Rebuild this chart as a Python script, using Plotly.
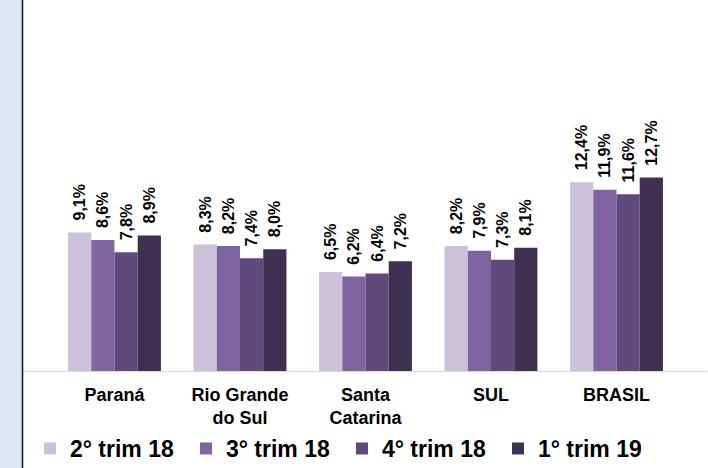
import plotly.graph_objects as go

categories = ["Paraná", "Rio Grande<br>do Sul", "Santa<br>Catarina", "SUL", "BRASIL"]
series_names = ["2° trim 18", "3° trim 18", "4° trim 18", "1° trim 19"]
trim2_18 = [9.1, 8.3, 6.5, 8.2, 12.4]
trim3_18 = [8.6, 8.2, 6.2, 7.9, 11.9]
trim4_18 = [7.8, 7.4, 6.4, 7.3, 11.6]
trim1_19 = [8.9, 8.0, 7.2, 8.1, 12.7]
colors = ["#CCC1DA", "#8064A2", "#604A7B", "#403152"]

W, H = 708, 468
ML, MR, MT, MB = 23, 1, 0, 97
PW, PH = W - ML - MR, H - MT - MB

FONT = "Liberation Sans, Arial, sans-serif"

def fmt(v):
    return "\u00a0\u00a0" + f"{v:.1f}".replace(".", ",") + "%"

fig = go.Figure()
for name, vals, col in zip(series_names, [trim2_18, trim3_18, trim4_18, trim1_19], colors):
    fig.add_trace(go.Bar(
        name=name,
        x=categories,
        y=vals,
        marker=dict(color=col, line=dict(width=0)),
        text=[fmt(v) for v in vals],
        textposition="outside",
        textangle=-90,
        constraintext="none",
        textfont=dict(family=FONT, size=16, color="#000000", weight="bold"),
        cliponaxis=False,
        hoverinfo="skip",
    ))

fig.update_layout(
    width=W, height=H,
    margin=dict(l=ML, r=MR, t=MT, b=MB, autoexpand=False),
    paper_bgcolor="white",
    plot_bgcolor="white",
    barmode="group",
    bargap=0.26,
    bargroupgap=0,
    font=dict(family=FONT, color="#000000"),
    xaxis=dict(
        range=[-0.729, 4.721],
        showline=True, linecolor="#D9D9D9", linewidth=1,
        showgrid=False, zeroline=False,
        ticks="", ticklabelstandoff=7,
        tickfont=dict(family=FONT, size=18, color="#000000", weight="bold"),
        automargin=False,
    ),
    yaxis=dict(
        range=[0, 24.36],
        visible=False,
        showgrid=False, zeroline=False,
        automargin=False,
    ),
    showlegend=True,
    legend=dict(
        orientation="h",
        x=0.0102, xanchor="left",
        y=-0.151, yanchor="top",
        entrywidth=111,
        font=dict(family=FONT, size=23, color="#000000", weight="bold"),
        bgcolor="rgba(0,0,0,0)",
        traceorder="normal",
    ),
    shapes=[
        dict(type="rect", xref="paper", yref="paper",
             x0=-ML / PW, x1=-1.3 / PW, y0=-MB / PH, y1=1 + MT / PH,
             fillcolor="#DCE6F6", line=dict(width=0), layer="above"),
        dict(type="line", xref="paper", yref="paper",
             x0=-0.5 / PW, x1=-0.5 / PW, y0=-MB / PH, y1=1 + MT / PH,
             line=dict(color="#1A1A1A", width=1.6), layer="above"),
    ],
)

fig.write_html(
    "out.html",
    config={"displayModeBar": False},
    post_script="document.body.style.margin='0';",
)
